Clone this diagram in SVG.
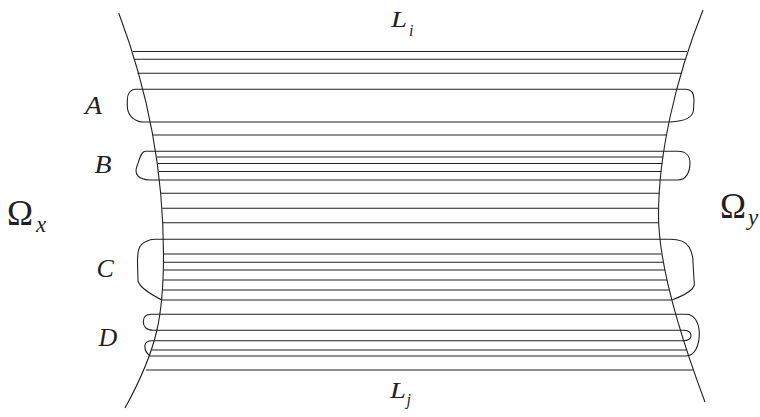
<svg xmlns="http://www.w3.org/2000/svg" width="760" height="417" viewBox="0 0 760 417">
<style>
.s{fill:none;stroke:#231f20;stroke-width:1.1}
.h{fill:none;stroke:#231f20;stroke-width:1.05}
text{font-family:'Liberation Serif','Times New Roman',serif;fill:#231f20}
.t{font-style:italic}
</style>
<rect width="760" height="417" fill="#fff"/>
<g id="boundaries">
<path id="left-boundary" class="s" d="M118.7,13 C149,93 163.5,175 163.5,255 C163.5,315 158,348 125,408"/>
<path id="right-boundary" class="s" d="M703,10 C675,80 658.5,155 658.5,215 C658.5,265 678.75,332 705,402"/>
</g>
<g id="lines">
<path class="h" d="M133,51.5H687 M134.5,59.3H685 M137.4,73.3H681.5 M152.8,135H666.8 M156.9,157H663.3 M158,163.5H662.5 M159,171.5H661.7 M161,193.3H659.5 M162.2,208.3H658.6 M163,222.7H658.7 M163.5,254H661.5 M163.5,262.3H663 M163.4,270H665 M163.1,280H667 M162.5,290H669.5 M152,350H687 M146,370H693"/>
</g>
<g id="band-A">
<path class="s" d="M135,89.3 H686 C692,89.3 694,93 694,100 L693.5,110 C692.5,118 685,121 670,122 H143 C133,121.5 127.3,114 127.3,106 L127.3,100 C127.3,93 131,89.3 135,89.3 Z"/>
<text class="t" x="85" y="114.3" font-size="25" textLength="17" lengthAdjust="spacingAndGlyphs">A</text>
</g>
<g id="band-B">
<path class="s" d="M145,151.3 H678 C686,151.3 690,156 690,163 C690,172 686,180 678,180 H150 C138,179.5 134,174 137,166 C140,158 141,152 145,151.3 Z"/>
<text class="t" x="94.5" y="173.3" font-size="25" textLength="17" lengthAdjust="spacingAndGlyphs">B</text>
</g>
<g id="band-C">
<path class="s" d="M155,239.3 H670 C680,239.3 686,242 689,247 C692,252 693,256 693,262 L694,280 C694.5,284 695,286 692,289 C687,294 680,297 673,299.5 L671,300 H162 C150,294 140,288 138,281 L137.5,262 C137.5,252 138,245 146,241.5 C149,240 152,239.3 155,239.3 Z"/>
<text class="t" x="96.5" y="276.7" font-size="26">C</text>
</g>
<g id="band-D">
<path class="s" d="M151,314.3 H686 C694,314.3 699,322 699.3,333 C699.5,345 695,356 686,356 H150 C146,353 144.5,349 145,345 C145.5,342 148,340.7 152,340.7 H683 C689,340.7 691,338.5 691,335.5 C691,332 688,330.3 683,330.3 H153 C146,330.3 143.3,326 143.3,322 C143.3,317 146,314.3 151,314.3 Z"/>
<text class="t" x="98.5" y="346" font-size="26">D</text>
</g>
<g id="label-Li">
<text class="t" x="391" y="27.3" font-size="23" textLength="16" lengthAdjust="spacingAndGlyphs">L</text>
<text class="t" x="409" y="36" font-size="16">i</text>
</g>
<g id="label-Lj">
<text class="t" x="390" y="398.3" font-size="23" textLength="16" lengthAdjust="spacingAndGlyphs">L</text>
<text class="t" x="406.5" y="405" font-size="16">j</text>
</g>
<g id="label-Omega-x">
<text x="7" y="225" font-size="35">Ω</text>
<text class="t" x="36" y="231.7" font-size="23">x</text>
</g>
<g id="label-Omega-y">
<text x="720" y="218.3" font-size="35">Ω</text>
<text class="t" x="748" y="225" font-size="23">y</text>
</g>
</svg>
